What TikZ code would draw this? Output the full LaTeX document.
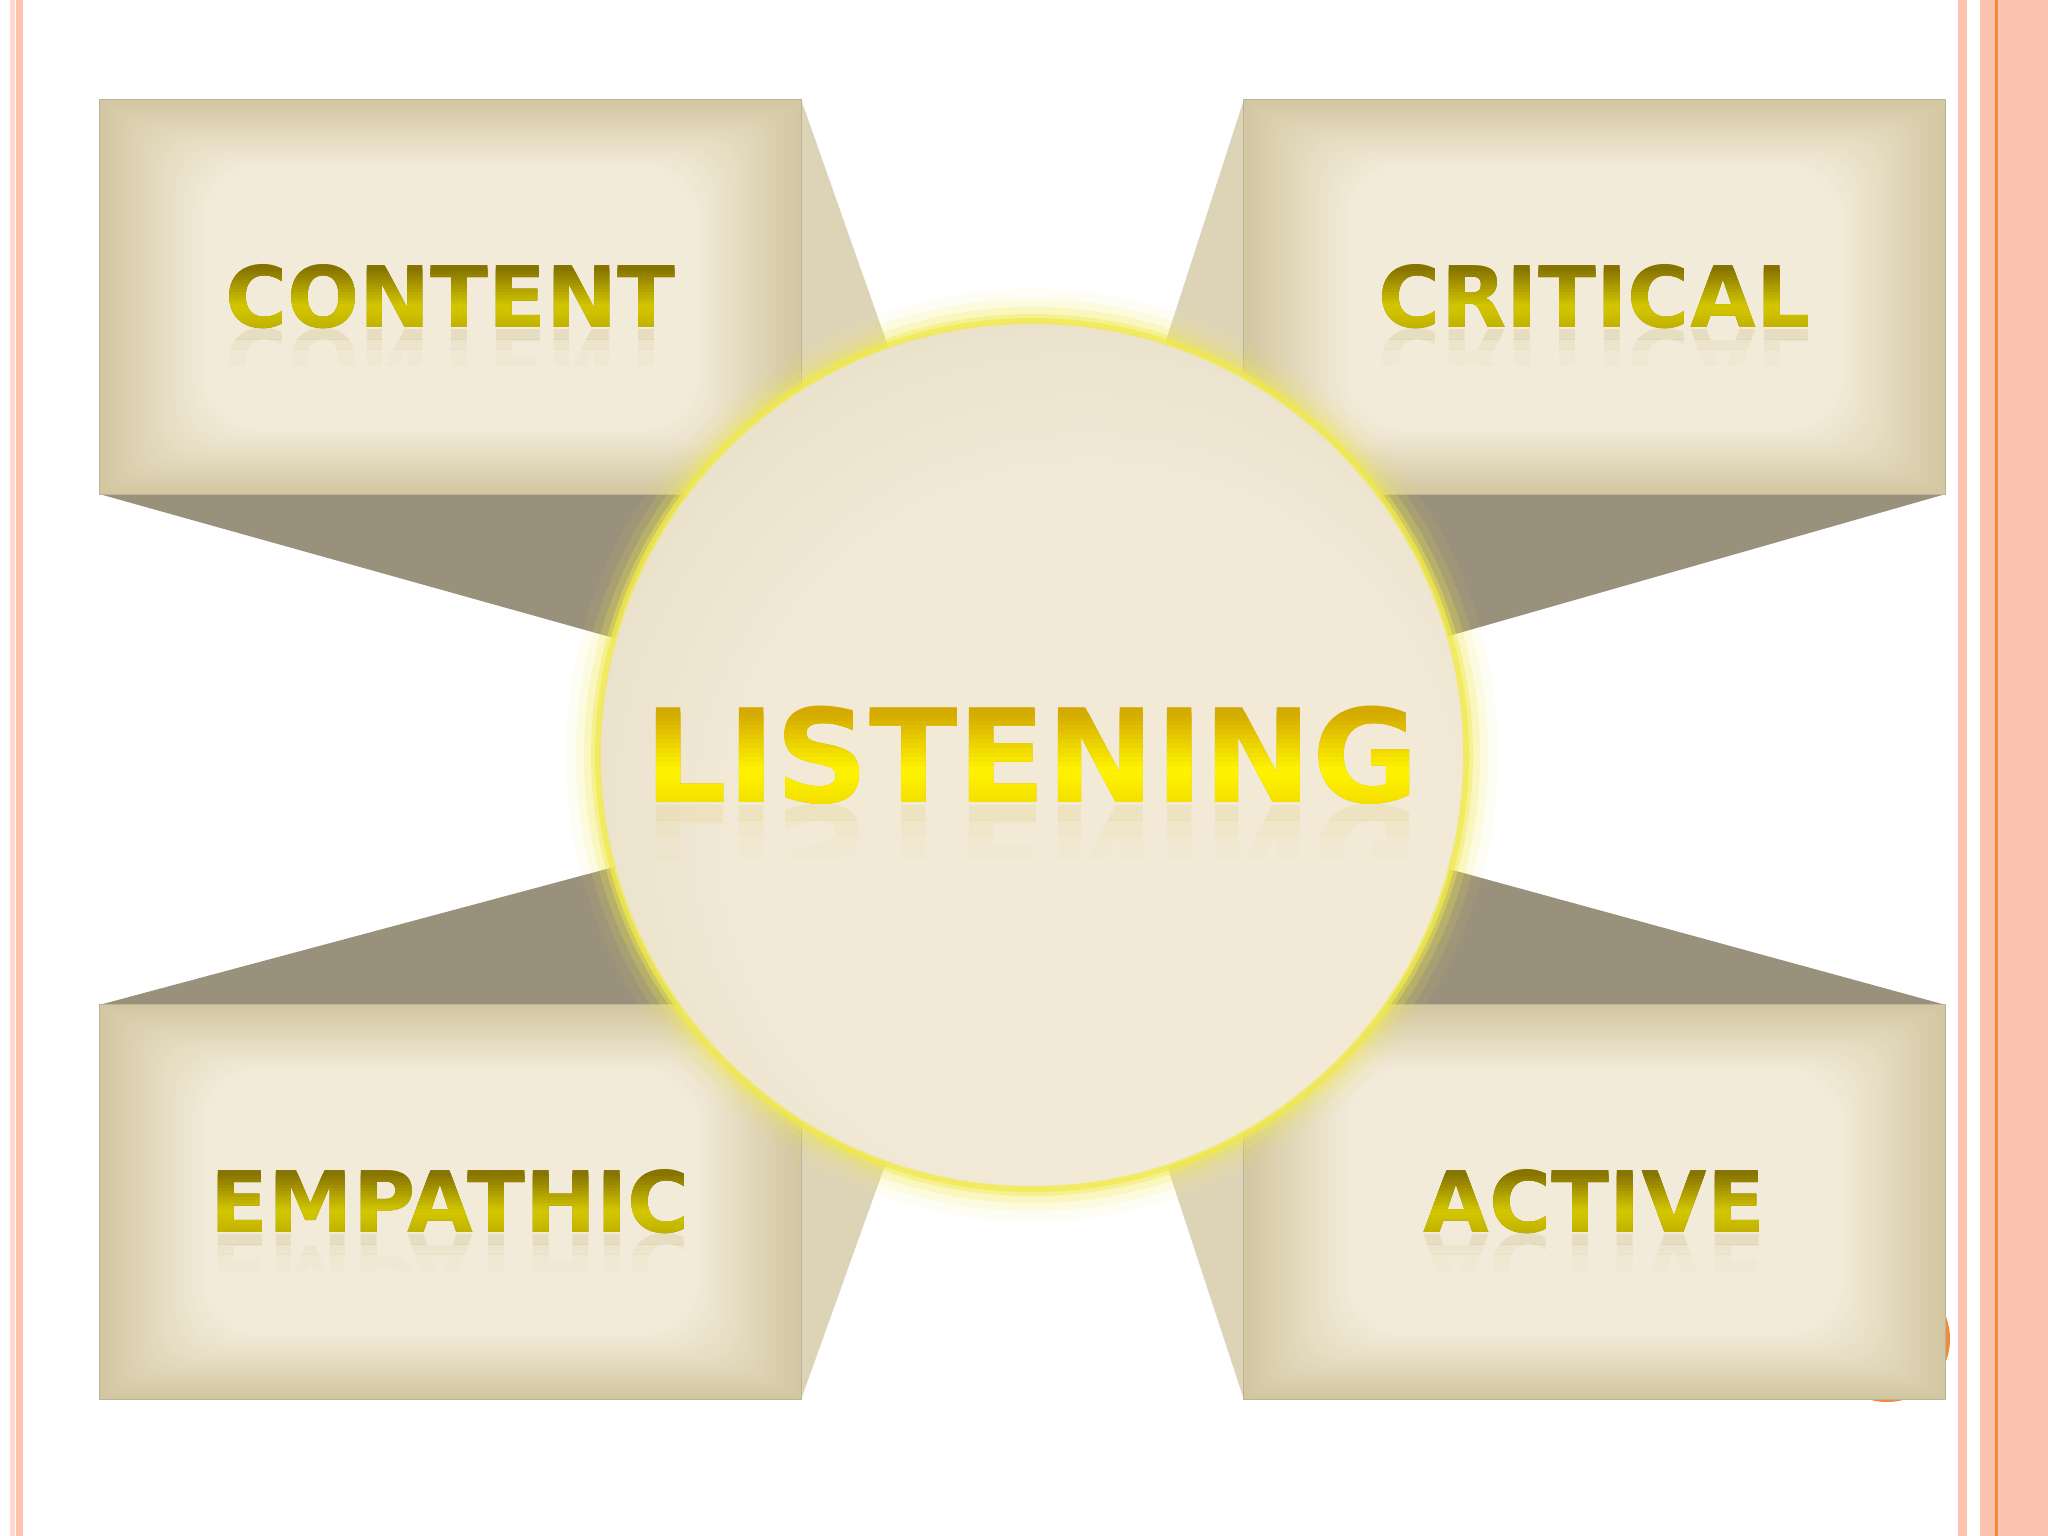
\documentclass[tikz,border=0pt]{standalone}
\usepackage{fontspec}
\newfontfamily\labelfont{DejaVu Sans}
\usetikzlibrary{positioning, calc}

\definecolor{pinkline}{HTML}{FCC3AE}
\definecolor{palepink}{HTML}{FDD8CB}
\definecolor{orangeline}{HTML}{F08A3C}
\definecolor{boxedge}{HTML}{D2C7A1}
\definecolor{boxface}{HTML}{F3EBD9}
\definecolor{boxrim}{HTML}{B9B29C}
\definecolor{sideface}{HTML}{DDD4B8}
\definecolor{shadeface}{HTML}{9A917C}
\definecolor{discin}{HTML}{F2EAD7}
\definecolor{discout}{HTML}{D0C5A4}
\definecolor{glow}{HTML}{F0EA4C}
\definecolor{olivedark}{HTML}{877400}
\definecolor{olivelight}{HTML}{D4C800}
\definecolor{golddark}{HTML}{D4AA00}
\definecolor{goldlight}{HTML}{FFF400}

\pgfdeclareradialshading{discshade}{\pgfpoint{6bp}{-8bp}}{color(0bp)=(discin); color(20bp)=(discin); color(40bp)=(discout!50!discin); color(50bp)=(discout)}

\tikzset{
  labelbox/.style={rectangle, minimum width=701pt, minimum height=394pt, inner sep=0pt},
  hub/.style={circle, minimum size=864pt, inner sep=0pt},
  letters/.style={font=\labelfont\bfseries\fontsize{#1}{#1}\selectfont, inner sep=0pt}
}

\newcommand{\shinylabel}[5]{%
  \foreach \lo/\hi/\op in {0.37/0.50/0.10, 0.50/0.62/0.06, 0.62/0.80/0.025}{
    \begin{scope}
      \clip ($(#1)+(-600,{\lo*#3})$) rectangle ($(#1)+(600,{\hi*#3})$);
      \node[letters=#3, text=#4, opacity=\op, yscale=-1] at ($(#1)+(0,{0.75*#3})$) {#2};
    \end{scope}
  }
  \node[letters=#3, text=#4] at (#1) {#2};
  \foreach \k in {0,...,23}{
    \pgfmathsetmacro\lo{-0.33+0.035*\k}
    \pgfmathsetmacro\mid{\lo+0.0175}
    \pgfmathtruncatemacro\pc{max(0,min(100, \mid<0.12 ? 100-100*(0.12-\mid)/0.44 : 100-105*(\mid-0.12)))}
    \begin{scope}
      \clip ($(#1)+(-600,{\lo*#3})$) rectangle ($(#1)+(600,{(\lo+0.05)*#3})$);
      \node[letters=#3, text=#5!\pc!#4] at (#1) {#2};
    \end{scope}
  }
}

\begin{document}
\begin{tikzpicture}[x=1pt, y=-1pt]
\useasboundingbox (0,0) rectangle (2048,1536);
\fill[white] (0,0) rectangle (2048,1536);

\fill[palepink] (10,0) rectangle (15,1536);
\fill[pinkline] (16,0) rectangle (23,1536);
\fill[pinkline] (1958,0) rectangle (1967,1536);
\fill[pinkline] (1980,0) rectangle (2048,1536);
\fill[orangeline] (1995,0) rectangle (1998,1536);

\node[labelbox] (content) at (450.5,297) {};
\node[labelbox] (critical) at (1594.5,297) {};
\node[labelbox] (empathic) at (450.5,1202) {};
\node[labelbox] (active) at (1594.5,1202) {};
\node[hub] (listen) at (1032,755) {};
\node[circle, fill=orangeline, minimum size=126pt, inner sep=0pt] (dot) at (1887,1339) {};

\fill[sideface] (content.north east) -- (content.south east) -- (listen.center) -- cycle;
\fill[shadeface] (content.south west) -- (content.south east) -- (listen.center) -- cycle;
\fill[sideface] (critical.north west) -- (critical.south west) -- (listen.center) -- cycle;
\fill[shadeface] (critical.south west) -- (critical.south east) -- (listen.center) -- cycle;
\fill[sideface] (empathic.north east) -- (empathic.south east) -- (listen.center) -- cycle;
\fill[shadeface] (empathic.north west) -- (empathic.north east) -- (listen.center) -- cycle;
\fill[sideface] (active.north west) -- (active.south west) -- (listen.center) -- cycle;
\fill[shadeface] (active.north west) -- (active.north east) -- (listen.center) -- cycle;

\foreach \b in {content, critical, empathic, active}{
  \fill[boxedge] (\b.south west) rectangle (\b.north east);
  \foreach \i in {1,...,25}{
    \pgfmathtruncatemacro\mix{4*\i}
    \fill[boxface!\mix!boxedge, rounded corners=2.4*\i] ($(\b.south west)+(4.2*\i,-2.6*\i)$) rectangle ($(\b.north east)+(-4.2*\i,2.6*\i)$);
  }
  \draw[boxrim, line width=1.2pt] (\b.south west) rectangle (\b.north east);
}

\foreach \r/\o in {466/0.06, 456/0.12, 448/0.22, 441/0.4}{
  \fill[glow, opacity=\o] (listen.center) circle (\r);
}
\shade[shading=discshade] (listen.center) circle (433);
\draw[glow, line width=6pt, opacity=0.75] (listen.center) circle (434);

\shinylabel{content}{CONTENT}{85}{olivedark}{olivelight}
\shinylabel{critical}{CRITICAL}{85}{olivedark}{olivelight}
\shinylabel{empathic}{EMPATHIC}{85}{olivedark}{olivelight}
\shinylabel{active}{ACTIVE}{85}{olivedark}{olivelight}
\shinylabel{listen}{LISTENING}{130}{golddark}{goldlight}
\end{tikzpicture}
\end{document}
